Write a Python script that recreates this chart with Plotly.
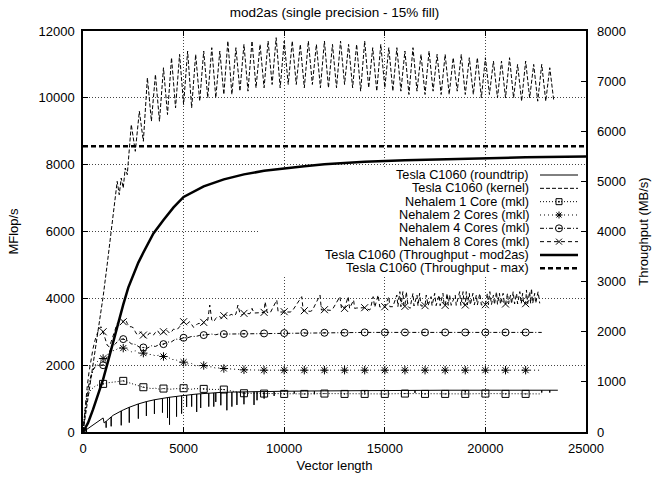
import plotly.graph_objects as go

# ---------------- data ----------------
TITLE = "mod2as (single precision - 15% fill)"
X_LABEL = "Vector length"
Y_LABEL = "MFlop/s"
Y2_LABEL = "Throughput (MB/s)"
X_TICKS = [0, 5000, 10000, 15000, 20000, 25000]
Y_TICKS = [0, 2000, 4000, 6000, 8000, 10000, 12000]
Y2_TICKS = [0, 1000, 2000, 3000, 4000, 5000, 6000, 7000, 8000]
NAMES = [
    "Tesla C1060 (roundtrip)",
    "Tesla C1060 (kernel)",
    "Nehalem 1 Core (mkl)",
    "Nehalem 2 Cores (mkl)",
    "Nehalem 4 Cores (mkl)",
    "Nehalem 8 Cores (mkl)",
    "Tesla C1060 (Throughput - mod2as)",
    "Tesla C1060 (Throughput - max)",
]

# Tesla C1060 (roundtrip) - MFlop/s, (vector length, value) with its dips
RT_POINTS = [
    (0, 0), (500, 200), (1000, 420), (1050, 270),
    (1150, 320), (1150, 130), (1150, 320), (1400, 450), (1400, 170), (1400, 450),
    (1500, 500), (1900, 630), (1900, 200), (1900, 630), (2000, 660),
    (2300, 740), (2300, 280), (2300, 740), (2750, 840), (2750, 400), (2750, 840),
    (3150, 910), (3150, 480), (3150, 910), (3550, 965), (3550, 540), (3550, 965),
    (3950, 1005), (3950, 580), (3950, 1005), (4200, 1030), (4200, 420), (4200, 1030),
    (4300, 1040), (4300, 220), (4300, 1040), (4650, 1065), (4650, 460), (4650, 1065),
    (4900, 1085), (4900, 550), (4900, 1085), (5150, 1100), (5150, 750), (5150, 1100),
    (5400, 1120), (5400, 760), (5400, 1120), (5650, 1135), (5650, 600), (5650, 1135),
    (5850, 1145), (5850, 720), (5850, 1145), (6250, 1160), (6250, 760), (6250, 1160),
    (6500, 1170), (6500, 760), (6500, 1170), (6600, 1175), (6600, 900), (6600, 1175),
    (6850, 1185), (6850, 800), (6850, 1185), (7150, 1190), (7150, 650), (7150, 1190),
    (7400, 1195), (7400, 760), (7400, 1195), (7650, 1198), (7650, 810), (7650, 1198),
    (8000, 1200), (8000, 830), (8000, 1200), (8500, 1205), (8500, 810), (8500, 1205),
    (8650, 1207), (8650, 950), (8650, 1207), (9000, 1210), (9000, 1000), (9000, 1210),
    (9500, 1215), (9500, 1080), (9500, 1215), (10000, 1220),
    (10500, 1222), (10500, 1150), (10500, 1222), (11000, 1225),
    (11500, 1228), (11500, 1130), (11500, 1228), (12000, 1230),
    (14000, 1238), (14000, 1180), (14000, 1238), (15000, 1240),
    (16500, 1245), (16500, 1170), (16500, 1245), (18000, 1250),
    (19000, 1250), (19000, 1180), (19000, 1250), (22800, 1250), (22800, 1180),
    (22800, 1250), (23200, 1250), (23200, 1180), (23200, 1250), (23600, 1250),
]

# Tesla C1060 (kernel) - MFlop/s
K_X = [0, 200, 400, 600, 800, 1000, 1200, 1400, 1600,
       1700, 1800, 1900, 2000, 2100, 2200, 2300,
       2400, 2600, 2800, 3000, 3200, 3400, 3600, 3800, 4000, 4200,
       4400, 4600, 4800, 5000, 5200, 5400, 5600, 5800, 6000, 6200,
       6400, 6600, 6800, 7000, 7200, 7400, 7600, 7800, 8000, 8200,
       8400, 8600, 8800, 9000, 9200, 9400, 9600, 9800, 10000, 10200,
       10400, 10600, 10800, 11000, 11200, 11400, 11600, 11800, 12000, 12200,
       12400, 12600, 12800, 13000, 13200, 13400, 13600, 13800, 14000, 14200,
       14400, 14600, 14800, 15000, 15200, 15400, 15600, 15800, 16000, 16200,
       16400, 16600, 16800, 17000, 17200, 17400, 17600, 17800, 18000, 18200,
       18400, 18600, 18800, 19000, 19200, 19400, 19600, 19800, 20000, 20200,
       20400, 20600, 20800, 21000, 21200, 21400, 21600, 21800, 22000, 22200,
       22400, 22600, 22800, 23000, 23200, 23400]
K_Y = [0, 800, 1650, 2450, 3250, 4050, 5000, 6000, 7000,
       7500, 7100, 7600, 7300, 7900, 7700, 8500,
       9200, 8400, 9600, 8700, 10600, 9300, 10700, 9300, 10900, 9500,
       11200, 9700, 11300, 9800, 11400, 9700, 11300, 9900, 11400, 10000,
       11500, 10000, 11400, 10100, 11700, 10100, 11500, 10200, 11600, 10200,
       11700, 10300, 11600, 10300, 11700, 10400, 11800, 10300, 11700, 10400,
       11700, 10400, 11600, 10300, 11700, 10400, 11600, 10300, 11700, 10300,
       11600, 10300, 11700, 10400, 11600, 10300, 11600, 10200, 11700, 10300,
       11500, 10200, 11600, 10300, 11500, 10200, 11500, 10200, 11400, 10100,
       11500, 10200, 11300, 10100, 11400, 10200, 11300, 10100, 11300, 10100,
       11200, 10200, 11300, 10100, 11200, 10100, 11200, 10000, 11200, 10100,
       11100, 10000, 11100, 10000, 11200, 10000, 11000, 9900, 11100, 10000,
       11000, 9900, 11000, 9900, 10900, 9900]

# Nehalem (mkl) 1 / 2 / 4 cores - MFlop/s
N_X = [0, 100, 200, 300, 400, 500, 600, 700, 800, 900, 1000,
       1200, 1400, 1600, 1800, 2000, 2200, 2400, 2600, 2800, 3000,
       3200, 3400, 3600, 3800, 4000, 4200, 4400, 4600, 4800, 5000,
       5200, 5400, 5600, 5800, 6000, 6200, 6400, 6600, 6800, 7000,
       8000, 9000, 10000, 11000, 12000, 13000, 14000, 15000,
       16000, 17000, 18000, 19000, 20000, 21000, 22000, 22800]
N1_Y = [0, 650, 1000, 1180, 1270, 1330, 1370, 1400, 1420, 1430, 1440,
        1470, 1480, 1510, 1500, 1530, 1490, 1450, 1420, 1370, 1340,
        1320, 1300, 1310, 1280, 1300, 1290, 1280, 1300, 1290, 1310,
        1290, 1280, 1300, 1290, 1290, 1280, 1280, 1270, 1280, 1270,
        1160, 1150, 1140, 1140, 1150, 1140, 1140, 1140,
        1150, 1140, 1140, 1140, 1150, 1140, 1140, 1140]
N2_Y = [0, 550, 1000, 1350, 1650, 1850, 2000, 2100, 2150, 2200, 2200,
        2330, 2430, 2440, 2530, 2510, 2470, 2400, 2430, 2350, 2360,
        2320, 2320, 2280, 2300, 2260, 2250, 2170, 2170, 2090, 2090,
        2040, 2050, 1980, 1990, 1990, 1950, 1950, 1910, 1920, 1900,
        1860, 1850, 1850, 1850, 1850, 1850, 1850, 1850,
        1850, 1850, 1850, 1850, 1850, 1850, 1850, 1850]
N4_Y = [0, 600, 1100, 1450, 1700, 1850, 1950, 2000, 2000, 1980, 2000,
        2250, 2520, 2630, 2770, 2780, 2740, 2640, 2620, 2540, 2530,
        2510, 2580, 2560, 2620, 2630, 2690, 2700, 2780, 2770, 2820,
        2820, 2860, 2860, 2890, 2900, 2900, 2930, 2910, 2940, 2930,
        2940, 2950, 2960, 2970, 2970, 2970, 2980, 2980,
        2980, 2980, 2980, 2980, 2980, 2980, 2980, 2980]

# Nehalem 8 cores (mkl) - MFlop/s, (vector length, value), noisy with spikes
N8_POINTS = [
    (0, 0), (100, 700), (200, 1300), (300, 1800), (400, 2200), (500, 2500),
    (600, 2750), (700, 2950), (800, 3100), (900, 3150), (1000, 3000),
    (1100, 2800), (1200, 2600), (1300, 2550), (1400, 2700), (1500, 2900),
    (1600, 3100), (1700, 3250), (1800, 3300), (1900, 3350), (2000, 3300),
    (2100, 3380), (2200, 3250), (2300, 3150), (2400, 3150), (2500, 3120),
    (2600, 3000), (2700, 2900), (2800, 2950), (2900, 3000), (3000, 2900),
    (3100, 2820), (3200, 2880), (3300, 2960), (3400, 2950), (3500, 2900),
    (3600, 2980), (3700, 3040), (3800, 2950), (3900, 2910), (4000, 3000),
    (4100, 3080), (4200, 3020), (4300, 2960), (4400, 3000), (4500, 3080),
    (4600, 3060), (4700, 3080), (4800, 3150), (4900, 3240), (5000, 3300),
    (5100, 3230), (5200, 3250), (5300, 3300), (5400, 3200), (5500, 3130),
    (5600, 3180), (5700, 3240), (5800, 3250), (5900, 3200), (6000, 3280),
    (6100, 3330), (6200, 3340), (6300, 3800), (6400, 3350), (6500, 3300),
    (6600, 3400), (6700, 3460), (6800, 3450), (6900, 3400), (7000, 3480),
    (7100, 3520), (7200, 3450), (7300, 3500), (7400, 3520), (7500, 3470),
    (7600, 3530), (7700, 3800), (7800, 3550), (7900, 3500), (8000, 3550),
    (8300, 3540), (8400, 3700), (8500, 3560), (8800, 3570), (9000, 3580),
    (9050, 3900), (9150, 3580), (9300, 3560), (9630, 3950), (9700, 3590),
    (10000, 3600), (10300, 3590), (10400, 3620), (10870, 4050), (10950, 3620),
    (11000, 3630), (11300, 3610), (11400, 3640), (11780, 4100), (11850, 3650),
    (12000, 3660), (12300, 3640), (12400, 3670), (12770, 4050), (12850, 3680),
    (13000, 3700), (13180, 4050), (13250, 3700), (13450, 3950), (13500, 3700),
    (13600, 3710), (14000, 3720), (14250, 3650), (14300, 3720), (14420, 4050),
    (14500, 3730), (14670, 4100), (14750, 3740), (15000, 3750), (15200, 4050),
    (15250, 3750), (15400, 3750), (15600, 4100), (15650, 3750), (15750, 4200),
    (15800, 3750), (15900, 4200), (15950, 3760), (16000, 3760), (16070, 4200),
    (16150, 3760), (16250, 3700), (16400, 4150), (16450, 3770), (16600, 4100),
    (16650, 3770), (16730, 4150), (16800, 3770), (17000, 3780), (17060, 4100),
    (17150, 3780), (17300, 4050), (17350, 3780), (17480, 4150), (17550, 3780),
    (17700, 4100), (17750, 3780), (17890, 4150), (17950, 3790), (18000, 3790),
    (18100, 4150), (18150, 3790), (18220, 4100), (18300, 3790), (18500, 4100),
    (18550, 3790), (18720, 4200), (18780, 3790), (18890, 4200), (18950, 3800),
    (19000, 3800), (19050, 4200), (19100, 3800), (19200, 4150), (19250, 3800),
    (19380, 4150), (19450, 3800), (19550, 4100), (19600, 3800), (19720, 4150),
    (19800, 3800), (20000, 3810), (20100, 4150), (20150, 3810), (20220, 4200),
    (20300, 3810), (20400, 4100), (20450, 3810), (20550, 4200), (20600, 3820),
    (20700, 4150), (20750, 3820), (20880, 4150), (20950, 3820), (21000, 3830),
    (21100, 4150), (21150, 3830), (21250, 4100), (21300, 3830), (21380, 4200),
    (21450, 3830), (21550, 4150), (21600, 3830), (21710, 4200), (21780, 3840),
    (21850, 4150), (21900, 3840), (22000, 3840), (22040, 4250), (22100, 3840),
    (22200, 4200), (22250, 3840), (22290, 4300), (22350, 3850), (22450, 4150),
    (22500, 3850), (22620, 4200), (22700, 3850),
]

# Tesla C1060 throughput (right axis, MB/s)
TP_X = [0, 250, 500, 750, 1000, 1250, 1500, 1750, 2000, 2250, 2500, 2750,
        3000, 3500, 4000, 4500, 5000, 6000, 7000, 8000, 9000, 10000, 11000,
        12000, 14000, 16000, 18000, 20000, 22000, 25000]
TP_Y = [0, 180, 450, 730, 1050, 1420, 1800, 2180, 2540, 2880, 3150, 3380,
        3580, 3960, 4230, 4480, 4690, 4900, 5040, 5140, 5210, 5260, 5300,
        5340, 5390, 5420, 5445, 5465, 5480, 5495]
TPMAX_X = [0, 25000]
TPMAX_Y = [5700, 5700]

# ---------------- figure ----------------
FONT = "Liberation Sans, Arial, Helvetica, sans-serif"
W, H = 656, 477
PL, PR, PT, PB = 83, 586, 31, 432
XR = [0, 25000]
YR = [0, 12000]
Y2R = [0, 8000]


def fx(p):
    return (p - PL) / (PR - PL)


def fy(p):
    return (PB - p) / (PB - PT)


def marks(xs, ys):
    mx = [x for x in xs if x % 1000 == 0]
    my = [y for x, y in zip(xs, ys) if x % 1000 == 0]
    return mx, my


RT_X = [p[0] for p in RT_POINTS]
RT_Y = [p[1] for p in RT_POINTS]
N8_X = [p[0] for p in N8_POINTS]
N8_Y = [p[1] for p in N8_POINTS]

fig = go.Figure()

STY = [
    dict(width=1, dash="solid"),
    dict(width=1, dash="4px,2px"),
    dict(width=1, dash="1px,2px"),
    dict(width=1, dash="1px,3px"),
    dict(width=1, dash="4px,2px,1px,2px"),
    dict(width=1, dash="4px,3px"),
    dict(width=2.5, dash="solid"),
    dict(width=2.5, dash="5px,3px"),
]
SYMS = [None, None, "square-open-dot", "asterisk-open", "circle-open-dot", "x-thin-open", None, None]

series = [
    (RT_X, RT_Y, "y"),
    (K_X, K_Y, "y"),
    (N_X, N1_Y, "y"),
    (N_X, N2_Y, "y"),
    (N_X, N4_Y, "y"),
    (N8_X, N8_Y, "y"),
    (TP_X, TP_Y, "y2"),
    (TPMAX_X, TPMAX_Y, "y2"),
]

for i, (xs, ys, ax) in enumerate(series):
    fig.add_trace(go.Scatter(
        x=xs, y=ys, yaxis=ax, mode="lines", name=NAMES[i],
        line=dict(color="black", width=STY[i]["width"], dash=STY[i]["dash"]),
        showlegend=False, hoverinfo="skip"))
    if SYMS[i]:
        mx, my = marks(xs, ys)
        fig.add_trace(go.Scatter(
            x=mx, y=my, yaxis=ax, mode="markers", name=NAMES[i],
            marker=dict(symbol=SYMS[i], size=7, color="black",
                        line=dict(width=1, color="black")),
            showlegend=False, hoverinfo="skip"))

# ---------------- manual key (text left, sample right, like gnuplot) ----------------
shapes = []
annotations = []
# opaque key background: above the grid, below the data
shapes.append(dict(type="rect", xref="x", yref="y",
                   x0=XR[1] * fx(260), x1=XR[1] * fx(579),
                   y0=YR[1] * fy(275), y1=YR[1] * fy(167),
                   fillcolor="white", line=dict(width=0), layer="between"))
ROW0, DY = 175.0, 13.33
SX0, SX1, SXM, TX = 540, 578, 559, 531
for i, name in enumerate(NAMES):
    yy = ROW0 + i * DY
    annotations.append(dict(text=name, x=fx(TX), y=fy(yy), xref="paper", yref="paper",
                            xanchor="right", yanchor="middle", showarrow=False,
                            font=dict(size=12.7, color="black", family=FONT)))
    shapes.append(dict(type="line", xref="paper", yref="paper",
                       x0=fx(SX0), x1=fx(SX1), y0=fy(yy), y1=fy(yy), layer="above",
                       line=dict(color="black", width=STY[i]["width"], dash=STY[i]["dash"])))
    sym = SYMS[i]
    if sym is None:
        continue
    blk = dict(color="black", width=1)
    if sym.startswith("square"):
        shapes.append(dict(type="rect", xref="paper", yref="paper", layer="above",
                           x0=fx(SXM - 3), x1=fx(SXM + 3), y0=fy(yy + 3), y1=fy(yy - 3), line=blk))
    if sym.startswith("circle"):
        shapes.append(dict(type="circle", xref="paper", yref="paper", layer="above",
                           x0=fx(SXM - 3.5), x1=fx(SXM + 3.5), y0=fy(yy + 3.5), y1=fy(yy - 3.5), line=blk))
    if sym.endswith("dot"):
        shapes.append(dict(type="circle", xref="paper", yref="paper", layer="above",
                           x0=fx(SXM - 0.9), x1=fx(SXM + 0.9), y0=fy(yy + 0.9), y1=fy(yy - 0.9),
                           fillcolor="black", line=dict(width=0)))
    if sym.startswith("asterisk"):
        for (dx, dy) in [(3.5, 0), (0, 3.5), (2.5, 2.5), (2.5, -2.5)]:
            shapes.append(dict(type="line", xref="paper", yref="paper", layer="above",
                               x0=fx(SXM - dx), x1=fx(SXM + dx), y0=fy(yy - dy), y1=fy(yy + dy), line=blk))
    if sym.startswith("x"):
        for (dx, dy) in [(3, 3), (3, -3)]:
            shapes.append(dict(type="line", xref="paper", yref="paper", layer="above",
                               x0=fx(SXM - dx), x1=fx(SXM + dx), y0=fy(yy - dy), y1=fy(yy + dy), line=blk))

axis_common = dict(ticks="inside", ticklen=5, tickwidth=1, tickcolor="black",
                   zeroline=False, automargin=False,
                   tickfont=dict(size=13, color="black", family=FONT))
GRID = dict(showgrid=True, gridcolor="#444444", gridwidth=1, griddash="1px,2px")

fig.update_layout(
    width=W, height=H, autosize=False,
    margin=dict(l=PL, r=W - PR, t=PT, b=H - PB, pad=0),
    paper_bgcolor="white", plot_bgcolor="white",
    font=dict(family=FONT, size=13, color="black"),
    showlegend=False,
    title=dict(text=TITLE, x=0.5, xref="paper", xanchor="center",
               y=(H - 12) / H, yref="container", yanchor="middle",
               font=dict(size=13.5, color="black", family=FONT)),
    xaxis=dict(range=XR, tickvals=X_TICKS, ticktext=[str(v) for v in X_TICKS],
               showline=True, linecolor="black", linewidth=1.5, mirror="ticks",
               ticklabelstandoff=4,
               title=dict(text=X_LABEL, standoff=6, font=dict(size=13, family=FONT)),
               **GRID, **axis_common),
    yaxis=dict(range=YR, tickvals=Y_TICKS, ticktext=[str(v) for v in Y_TICKS],
               showline=True, linecolor="black", linewidth=1.5, mirror=True,
               ticklabelstandoff=4,
               title=dict(text=Y_LABEL, standoff=17, font=dict(size=13, family=FONT)),
               **GRID, **axis_common),
    yaxis2=dict(range=Y2R, tickvals=Y2_TICKS, ticktext=[str(v) for v in Y2_TICKS],
                overlaying="y", side="right", showline=False, showgrid=False,
                ticklabelstandoff=10,
                title=dict(text=Y2_LABEL, standoff=13, font=dict(size=13, family=FONT)),
                **axis_common),
    shapes=shapes,
    annotations=annotations,
)

fig.write_html("out.html", config={"displayModeBar": False},
               post_script="document.body.style.margin='0px';")
